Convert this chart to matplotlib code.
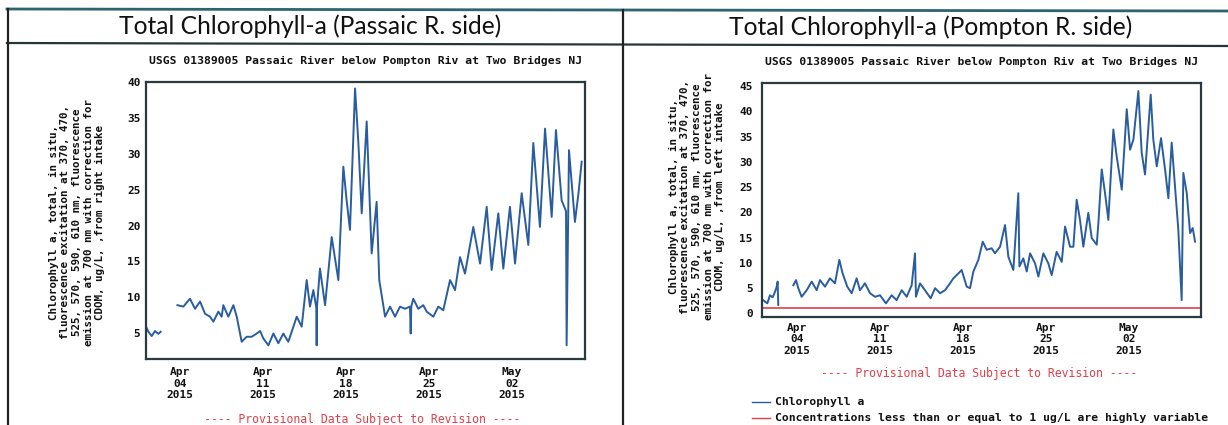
import numpy as np
import pandas as pd
import matplotlib
matplotlib.use("Agg")
import matplotlib.pyplot as plt
import matplotlib.dates as mdates
from matplotlib.lines import Line2D

# ---------------- data (day-of-April, fractional; NaN = gap) ----------------
left_days = [1.13, 1.33, 1.61, 1.89, 2.17, 2.37, np.nan,
             3.78, 4.28, 4.84, 5.26, 5.69, 6.11, 6.53, 6.81, 7.23, 7.51, 7.65, 8.07, 8.5, 8.78,
             9.2, 9.62, 10.04, 10.47, 10.75, 11.03, 11.45, 11.87, 12.29, 12.71, 13.13, 13.56,
             13.84, 14.26, 14.68, 14.96, 15.24, 15.5, 15.52, 15.54, 15.8, 16.23, 16.79, 17.35,
             17.77, 18.05, 18.33, 18.76, 19.04, 19.32, 19.74, 20.16, 20.58, 20.8, 21.29, 21.71,
             22.13, 22.55, 22.97, 23.39, 23.45, 23.5, 23.67, 24.09, 24.51, 24.8, 25.36, 25.78,
             26.2, 26.77, 27.19, 27.61, 28.03, 28.73, 29.3, 29.86, 30.28, 30.84, 31.26, 31.82,
             32.25, 32.81, 33.37, 33.79, 34.35, 34.78, 35.34, 35.7, 36.18, 36.55, 36.6, 36.8,
             37.3, 37.6, 37.87]
left_vals = [5.9, 5.2, 4.6, 5.3, 4.9, 5.2, np.nan,
             8.9, 8.7, 9.8, 8.4, 9.4, 7.7, 7.3, 6.6, 8.0, 7.3, 8.9, 7.3, 8.9, 7.3,
             3.8, 4.5, 4.5, 4.95, 5.3, 4.25, 3.3, 4.95, 3.6, 4.95, 3.8, 5.9,
             7.3, 5.9, 12.4, 8.7, 11.0, 8.5, 3.3, 8.5, 14.0, 8.9, 18.4, 12.4,
             28.2, 23.5, 19.4, 39.1, 31.5, 21.7, 34.5, 16.1, 23.3, 12.4, 7.3, 8.7,
             7.3, 8.7, 8.4, 8.7, 4.95, 8.7, 9.8, 8.4, 8.9, 8.0, 7.3, 8.7,
             8.2, 12.4, 11.0, 15.6, 13.3, 19.8, 14.7, 22.6, 13.8, 21.7, 14.0, 22.6,
             14.7, 24.5, 17.3, 31.5, 19.8, 33.5, 21.2, 33.3, 23.5, 22.0, 3.3, 30.5,
             20.5, 24.5, 28.9]

right_days = [1.05, 1.22, 1.5, 1.72, 1.95, 2.15, 2.29, 2.37, 2.42, np.nan,
              3.69, 3.92, 4.11, 4.39, 4.82, 5.24, 5.66, 5.94, 6.36, 6.78, 7.2, 7.57, 7.85,
              8.24, 8.61, 9.03, 9.31, 9.73, 10.16, 10.58, 11.0, 11.5, 11.98, 12.4, 12.83,
              13.25, 13.67, 13.95, 14.03, 14.37, 14.79, 15.27, 15.64, 16.06, 16.48, 16.9,
              17.18, 17.6, 17.88, 18.31, 18.59, 18.87, 19.29, 19.66, 19.99, 20.41, 20.69,
              21.12, 21.54, 21.82, 22.24, 22.66, 22.75, 23.08, 23.37, 23.65, 24.07, 24.35,
              24.77, 25.19, 25.47, 25.89, 26.32, 26.6, 27.02, 27.3, 27.58, 27.86, 28.14,
              28.56, 28.85, 29.27, 29.41, 29.69, 29.97, 30.25, 30.67, 30.95, 31.38, 31.8,
              32.08, 32.36, 32.78, 33.06, 33.34, 33.82, 34.04, 34.33, 34.69, 35.03, 35.31,
              35.59, 35.87, 36.15, 36.43, 36.57, 36.86, 37.14, 37.36, 37.56]
right_vals = [2.8, 2.5, 2.0, 3.6, 3.2, 4.3, 5.3, 6.3, 1.7, np.nan,
              5.6, 6.6, 5.0, 3.3, 4.6, 6.3, 4.6, 6.6, 5.3, 6.95, 5.96, 10.6, 7.9,
              5.3, 4.0, 6.95, 4.6, 5.96, 4.0, 3.3, 3.6, 2.0, 3.6, 2.64, 4.6,
              3.3, 5.6, 11.9, 3.3, 5.96, 4.6, 3.0, 5.0, 4.0, 4.6, 5.96,
              6.95, 7.9, 8.6, 5.3, 5.0, 8.3, 10.6, 14.2, 12.6, 12.9, 11.9,
              13.2, 17.5, 11.2, 8.6, 23.8, 9.3, 10.9, 8.3, 11.9, 9.9, 7.3,
              11.9, 9.9, 7.6, 12.2, 10.2, 17.2, 13.2, 13.2, 22.5, 18.5, 13.2,
              19.9, 14.9, 13.6, 17.9, 28.5, 23.8, 18.5, 36.4, 31.1, 24.5, 40.4,
              32.4, 34.4, 44.0, 31.8, 27.5, 43.3, 34.4, 29.1, 34.7, 28.5, 22.8,
              33.8, 25.1, 16.5, 2.64, 27.8, 23.8, 15.9, 16.9, 14.2]

threshold = 1.0
tick_dates = ["2015-04-04", "2015-04-11", "2015-04-18", "2015-04-25", "2015-05-02"]
left_yticks = [5, 10, 15, 20, 25, 30, 35, 40]
right_yticks = [0, 5, 10, 15, 20, 25, 30, 35, 40, 45]

header = "USGS 01389005 Passaic River below Pompton Riv at Two Bridges NJ"
ylab_common = ("Chlorophyll a, total, in situ,\n"
               "fluorescence excitation at 370, 470,\n"
               "525, 570, 590, 610 nm, fluorescence\n"
               "emission at 700 nm with correction for\n")
left_ylabel = ylab_common + "CDOM, ug/L, ,from right intake"
right_ylabel = ylab_common + "CDOM, ug/L, ,from left intake"
provisional = "---- Provisional Data Subject to Revision ----"
titles = ["Total Chlorophyll-a (Passaic R. side)", "Total Chlorophyll-a (Pompton R. side)"]
legend_labels = ["Chlorophyll a", "Concentrations less than or equal to 1 ug/L are highly variable"]

# ---------------- helpers ----------------
base_num = mdates.date2num(pd.Timestamp("2015-03-31"))
def to_num(days):
    return base_num + np.asarray(days, dtype=float)

W, H = 1228, 425
fig = plt.figure(figsize=(W / 100, H / 100), dpi=100)
fig.patch.set_facecolor("white")

def fx(px):
    return px / W
def fy(py):
    return 1 - py / H

MONO = "DejaVu Sans Mono"
LINE_C = "#2a5d9f"
FRAME_C = "#2b3a3c"
RED = "#e0404a"

def make_axes(x0, y0, x1, y1):
    return fig.add_axes([fx(x0), fy(y1), fx(x1) - fx(x0), fy(y0) - fy(y1)])

def style(ax, yticks, xpad, ypad):
    ax.xaxis_date()
    ax.set_xticks([mdates.date2num(pd.Timestamp(t)) for t in tick_dates])
    ax.xaxis.set_major_formatter(mdates.DateFormatter("%b\n%d\n%Y"))
    ax.set_yticks(yticks)
    ax.tick_params(axis="both", length=0, labelsize=8)
    ax.tick_params(axis="x", pad=xpad)
    ax.tick_params(axis="y", pad=ypad)
    for lab in ax.get_xticklabels() + ax.get_yticklabels():
        lab.set_fontfamily(MONO)
        lab.set_fontweight("bold")
        lab.set_color("#111111")
        lab.set_linespacing(1.15)
    for s in ax.spines.values():
        s.set_color(FRAME_C)
        s.set_linewidth(1.6)

# ---------------- left panel ----------------
axL = make_axes(146, 82, 585, 359)
axL.plot(to_num(left_days), left_vals, color=LINE_C, lw=1.4)
axL.set_xlim(base_num + 1.13, base_num + 38.15)
axL.set_ylim(1.4, 40)
style(axL, left_yticks, 6, 4)
axL.set_title(header, fontfamily=MONO, fontweight="bold", fontsize=8.2, pad=13, color="#111111")

# ---------------- right panel ----------------
axR = make_axes(762, 83, 1201, 317)
axR.plot(to_num(right_days), right_vals, color=LINE_C, lw=1.4)
axR.axhline(threshold, color=RED, lw=1.2)
axR.set_xlim(base_num + 1.05, base_num + 38.06)
axR.set_ylim(-0.7, 45.6)
style(axR, right_yticks, 4.5, 6.5)
axR.set_title(header, fontfamily=MONO, fontweight="bold", fontsize=8.2, pad=13, color="#111111")

# y labels
for x, y, txt in [(77, 222, left_ylabel), (697, 197, right_ylabel)]:
    fig.text(fx(x), fy(y), txt, rotation=90, ha="center", va="center", multialignment="center",
             fontfamily=MONO, fontweight="bold", fontsize=7.8, linespacing=1.2, color="#111111")

# provisional notes
fig.text(fx(362), fy(419), provisional, ha="center", va="center", fontfamily=MONO,
         fontsize=8.3, color=RED)
fig.text(fx(979), fy(374), provisional, ha="center", va="center", fontfamily=MONO,
         fontsize=8.3, color=RED)

# legend (right panel)
for (yy, col, lab) in [(402, LINE_C, legend_labels[0]), (418, RED, legend_labels[1])]:
    fig.add_artist(Line2D([fx(752), fx(770)], [fy(yy), fy(yy)], color=col, lw=1.0))
    fig.text(fx(775), fy(yy), lab, ha="left", va="center", fontfamily=MONO,
             fontweight="bold", fontsize=8.2, color="#111111")

# table frame and titles
fig.add_artist(Line2D([fx(7), 1], [fy(9), fy(11)], color="#2e6470", lw=2.0))
fig.add_artist(Line2D([fx(7), 1], [fy(43), fy(46)], color="#263638", lw=1.6))
fig.add_artist(Line2D([fx(7.5), fx(7.5)], [fy(9), 0], color="#222222", lw=1.6))
fig.add_artist(Line2D([fx(623), fx(623)], [fy(10), 0], color="#222222", lw=1.6))
fig.text(fx(310), fy(26), titles[0], ha="center", va="center", fontfamily="Lato",
         fontsize=17.7, color="#111111")
fig.text(fx(931), fy(27), titles[1], ha="center", va="center", fontfamily="Lato",
         fontsize=17.7, color="#111111")

fig.savefig("out.png", dpi=100, facecolor="white")
